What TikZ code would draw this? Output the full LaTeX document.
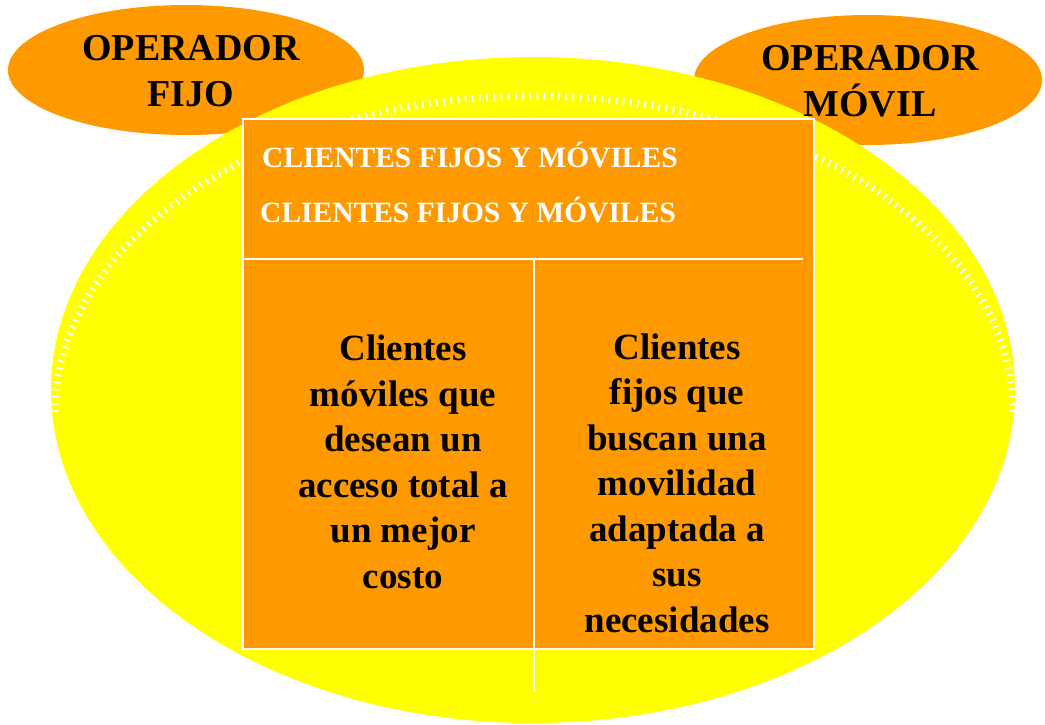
\documentclass[tikz,border=0pt]{standalone}
\usepackage{fontspec}
\setmainfont{Liberation Serif}
\definecolor{naranja}{HTML}{FF9900}
\definecolor{amarillo}{HTML}{FFFF00}
\tikzset{
  operador/.style={font=\bfseries\fontsize{38}{46}\selectfont, align=center, anchor=base, inner sep=0pt},
  cliente/.style={font=\bfseries\fontsize{37}{45.5}\selectfont, align=center, anchor=base, inner sep=0pt},
  titulo/.style={font=\bfseries\fontsize{29.5}{35}\selectfont, text=white, anchor=base west, inner sep=0pt},
  linea/.style={draw=white, line width=1.5pt}
}
\begin{document}
\begin{tikzpicture}[x=1pt,y=-1pt]
\useasboundingbox (0,0) rectangle (1045,724);
\fill[naranja] (186,70) ellipse [x radius=178pt, y radius=65pt];
\fill[naranja] (868,80) ellipse [x radius=174pt, y radius=65pt];
\fill[amarillo] (533,390) ellipse [x radius=482pt, y radius=333pt];
\draw[white, line width=7pt, dash pattern=on 1.8pt off 5.4pt] (55,412) arc [start angle=180, end angle=0, x radius=479pt, y radius=316pt];
\node[linea, fill=naranja, anchor=north west, minimum width=571pt, minimum height=530pt, inner sep=0pt] (tabla) at (242,118) {};
\coordinate (corte) at (534,259);
\coordinate (fin) at (803,259);
\coordinate (pie) at (534,692);
\draw[linea] (tabla.west |- corte) -- (fin);
\draw[linea] (corte) -- (pie);
\node[titulo] (fila1) at (262,167) {CLIENTES FIJOS Y MÓVILES};
\node[titulo] (fila2) at (260,222) {CLIENTES FIJOS Y MÓVILES};
\node[operador] (fijo) at (191,106) {OPERADOR\\FIJO};
\node[operador] (movil) at (870,116) {OPERADOR\\MÓVIL};
\node[cliente] (moviles) at (403,588) {Clientes\\móviles que\\desean un\\acceso total a\\un mejor\\costo};
\node[cliente] (fijos) at (677,632) {Clientes\\fijos que\\buscan una\\movilidad\\adaptada a\\sus\\necesidades};
\end{tikzpicture}
\end{document}
